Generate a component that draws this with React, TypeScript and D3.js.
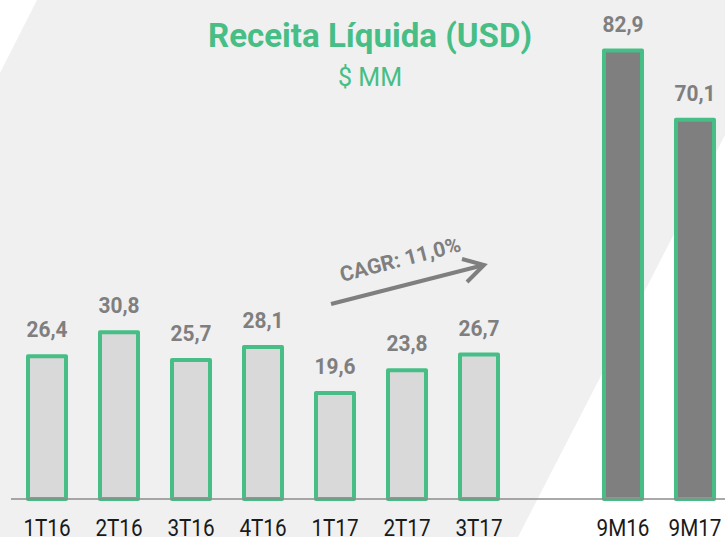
import React from "react";
import * as d3 from "d3";

const categories = ["1T16", "2T16", "3T16", "4T16", "1T17", "2T17", "3T17", "", "9M16", "9M17"];
const values: (number | null)[] = [26.4, 30.8, 25.7, 28.1, 19.6, 23.8, 26.7, null, 82.9, 70.1];
const labels = ["26,4", "30,8", "25,7", "28,1", "19,6", "23,8", "26,7", "", "82,9", "70,1"];
const darkBars = ["9M16", "9M17"];
const title = "Receita Líquida (USD)";
const subtitle = "$ MM";
const cagrText = "CAGR: 11,0%";

const W = 725;
const H = 537;
const GREEN = "#47BE85";
const GRAY = "#7f7f7f";

export default function App() {
  const x = d3.scaleBand<string>().domain(categories).range([11, 731]).paddingInner(0.472).paddingOuter(0.236);
  const y = d3.scaleLinear().domain([0, 90]).range([499, 499 - 90 * 5.41]);
  const baseY = y(0);

  const bg = [
    [37, 0],
    [W, 0],
    [W, 135],
    [518, H],
    [0, H],
    [0, 73],
  ];
  const bgPath = d3.line()(bg as [number, number][]) + "Z";

  return (
    <svg width={W} height={H} style={{ display: "block", fontFamily: "Roboto, sans-serif" }}>
      <style>{`body{margin:0}`}</style>
      <rect x={0} y={0} width={W} height={H} fill="#ffffff" />
      <path d={bgPath} fill="#f0f0f0" />

      <text x={370} y={47} textAnchor="middle" fontSize={34} fontWeight={700} fill={GREEN}
        textLength={324} lengthAdjust="spacingAndGlyphs">{title}</text>
      <text x={370} y={86} textAnchor="middle" fontSize={25} fill={GREEN}
        textLength={64} lengthAdjust="spacingAndGlyphs">{subtitle}</text>

      {categories.map((c, i) => {
        const v = values[i];
        if (v == null) return null;
        const bx = x(c)!;
        const top = y(v);
        const dark = darkBars.includes(c);
        return (
          <g key={c}>
            <rect x={bx} y={top} width={x.bandwidth()} height={baseY - top}
              fill={dark ? GRAY : "#d9d9d9"} stroke={GREEN} strokeWidth={4} strokeLinejoin="round" />
            <g transform={`translate(${bx + x.bandwidth() / 2},${top - 19}) scale(0.95,1)`}>
              <text textAnchor="middle" fontSize={22} fontWeight={700} fill={GRAY}>{labels[i]}</text>
            </g>
          </g>
        );
      })}

      <line x1={11} x2={W} y1={baseY} y2={baseY} stroke="#8c8c8c" strokeWidth={1.5} />

      {categories.map((c) =>
        c ? (
          <g key={"l" + c} transform={`translate(${x(c)! + x.bandwidth() / 2},536) scale(0.9,1)`}>
            <text textAnchor="middle" fontSize={23} fill="#1a1a1a">{c}</text>
          </g>
        ) : null
      )}

      <g stroke={GRAY} strokeWidth={4} fill="none" strokeLinecap="butt">
        <line x1={331} y1={304} x2={484} y2={265} />
        <polyline points="462,259 484,265 467,282" strokeLinejoin="miter" />
      </g>
      <text transform="translate(342,282) rotate(-14.5)" fontSize={21} fontWeight={700} fill={GRAY}
        textLength={124} lengthAdjust="spacingAndGlyphs">{cagrText}</text>
    </svg>
  );
}
